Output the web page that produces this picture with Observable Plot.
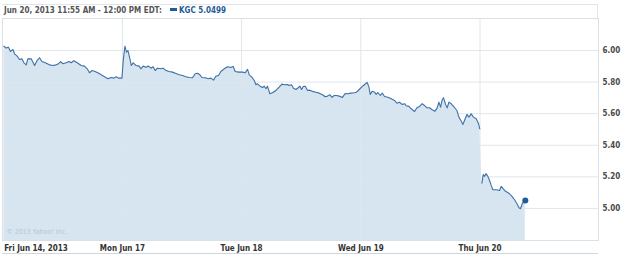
<!DOCTYPE html>
<html><head><meta charset="utf-8">
<script src="https://cdn.jsdelivr.net/npm/d3@7"></script>
<script src="https://cdn.jsdelivr.net/npm/@observablehq/plot@0.6"></script>
<style>
body{margin:0;background:#fff;}
#wrap{position:relative;width:625px;height:256px;overflow:hidden;font-family:"DejaVu Sans Condensed","DejaVu Sans",sans-serif;}
#wrap svg{position:absolute;left:0;top:0;}
#topline{position:absolute;left:2px;top:4px;width:596px;height:14px;border-top:1px solid #dfe5eb;border-right:1px solid #dfe5eb;box-sizing:border-box;}
#hdr{position:absolute;left:4px;top:6px;font-size:8px;font-weight:bold;line-height:10px;color:#555;white-space:nowrap;}
#hdr .sw{display:inline-block;width:7px;height:3px;background:#1f5c99;vertical-align:middle;margin:0 2px 0 8px;position:relative;top:-1px;}
#hdr .tk{color:#1f5c99;}
#botline{position:absolute;left:2px;top:253px;width:596px;height:0;border-top:1px solid #cfd6dc;}
</style></head>
<body><div id="wrap"><div id="topline"></div><div id="hdr">Jun 20, 2013 11:55 AM - 12:00 PM EDT:<span class="sw"></span><span class="tk">KGC 5.0499</span></div><div id="botline"></div></div>
<script>
const dayLabels = ["Fri Jun 14, 2013","Mon Jun 17","Tue Jun 18","Wed Jun 19","Thu Jun 20"];
const yTicks = [5.0, 5.2, 5.4, 5.6, 5.8, 6.0];
// time in trading days since Fri Jun 14 open (fraction of session)
const friT = [0.006,0.025,0.044,0.061,0.081,0.095,0.117,0.137,0.157,0.174,0.193,0.207,0.235,0.263,0.285,0.305,0.325,0.352,0.388,0.417,0.445,0.464,0.481,0.501,0.529,0.551,0.570,0.593,0.621,0.654,0.682,0.705,0.724,0.744,0.766,0.794,0.822,0.850,0.878,0.906,0.929,0.948,0.967,0.996];
const friP = [6.027,6.015,6.021,5.994,6.006,5.979,5.964,5.943,5.947,5.922,5.909,5.947,5.947,5.905,5.937,5.954,5.930,5.922,5.909,5.905,5.909,5.916,5.930,5.916,5.922,5.930,5.922,5.935,5.922,5.905,5.901,5.884,5.859,5.873,5.869,5.859,5.846,5.834,5.821,5.829,5.825,5.834,5.825,5.825];
const monT = [1.007,1.021,1.034,1.046,1.063,1.074,1.091,1.113,1.141,1.155,1.174,1.197,1.219,1.239,1.258,1.275,1.294,1.323,1.342,1.365,1.393,1.420,1.449,1.477,1.504,1.533,1.560,1.588,1.611,1.630,1.650,1.667,1.695,1.722,1.742,1.764,1.784,1.806,1.826,1.854,1.882,1.910,1.930,1.946,1.974,1.998];
const monP = [5.937,6.027,5.989,6.000,5.947,5.905,5.922,5.905,5.901,5.884,5.901,5.894,5.901,5.888,5.897,5.873,5.888,5.884,5.888,5.873,5.867,5.863,5.854,5.846,5.842,5.834,5.829,5.827,5.853,5.856,5.846,5.829,5.827,5.821,5.825,5.812,5.837,5.842,5.867,5.884,5.897,5.892,5.899,5.867,5.863,5.863];
const tueT = [2.008,2.030,2.050,2.064,2.086,2.106,2.120,2.133,2.154,2.175,2.190,2.204,2.217,2.237,2.259,2.288,2.315,2.338,2.357,2.385,2.399,2.419,2.435,2.456,2.475,2.489,2.503,2.517,2.534,2.553,2.573,2.595,2.623,2.651,2.679,2.701,2.721,2.741,2.758,2.777,2.796,2.819,2.846,2.869,2.892,2.917,2.945,2.964,2.987];
const tueP = [5.863,5.859,5.880,5.846,5.831,5.810,5.783,5.789,5.774,5.766,5.774,5.758,5.774,5.726,5.732,5.747,5.768,5.787,5.783,5.785,5.778,5.783,5.761,5.753,5.764,5.774,5.753,5.772,5.774,5.747,5.749,5.741,5.736,5.730,5.720,5.707,5.711,5.720,5.703,5.715,5.715,5.711,5.703,5.728,5.726,5.730,5.732,5.736,5.753];
const wedT = [3.009,3.029,3.039,3.054,3.068,3.079,3.096,3.115,3.129,3.143,3.163,3.180,3.199,3.227,3.255,3.283,3.303,3.325,3.347,3.367,3.381,3.404,3.423,3.451,3.471,3.493,3.515,3.534,3.555,3.576,3.599,3.622,3.641,3.655,3.669,3.683,3.694,3.711,3.725,3.739,3.758,3.778,3.794,3.806,3.823,3.842,3.857,3.870,3.890,3.907,3.926,3.945,3.968,3.988,3.998];
const wedP = [5.770,5.783,5.789,5.797,5.768,5.722,5.742,5.736,5.722,5.734,5.715,5.730,5.709,5.704,5.694,5.684,5.666,5.673,5.658,5.663,5.650,5.646,5.631,5.614,5.637,5.646,5.663,5.652,5.637,5.637,5.625,5.616,5.637,5.673,5.641,5.688,5.701,5.658,5.637,5.673,5.663,5.646,5.631,5.620,5.578,5.553,5.532,5.557,5.595,5.578,5.599,5.578,5.568,5.536,5.504];
const thuT = [4.016,4.027,4.038,4.050,4.066,4.080,4.094,4.108,4.136,4.164,4.178,4.192,4.206,4.228,4.248,4.268,4.290,4.310,4.327,4.340,4.352,4.366,4.380];
const thuP = [5.160,5.215,5.203,5.220,5.203,5.177,5.146,5.118,5.118,5.114,5.139,5.127,5.114,5.103,5.093,5.076,5.055,5.030,5.004,4.998,5.025,5.046,5.0499];

const T = [...friT, ...monT, ...tueT, ...wedT, ...thuT];
const P = [...friP, ...monP, ...tueP, ...wedP, ...thuP];
const data = T.map((t, i) => ({t, p: P[i], seg: t < 4 ? 0 : 1}));
const last = data[data.length - 1];
const dayIdx = dayLabels.map((d, i) => i);

const grid = "#dfe6ec";
const chart = Plot.plot({
  width: 625, height: 256,
  marginTop: 18, marginRight: 27, marginBottom: 16, marginLeft: 2,
  style: {fontFamily: '"DejaVu Sans Condensed","DejaVu Sans",sans-serif', background: "transparent"},
  x: {domain: [-0.006, 4.994], axis: null, label: null},
  y: {domain: [4.797, 6.2025], axis: null, label: null},
  marks: [
    Plot.areaY(data, {x: "t", y: "p", fill: "#d6e5f0", clip: true}),
    Plot.gridY(yTicks, {stroke: grid, strokeOpacity: 1}),
    Plot.gridX([1, 2, 3, 4], {stroke: grid, strokeOpacity: 1}),
    Plot.frame({stroke: "#d9e0e6"}),
    Plot.lineY(data, {x: "t", y: "p", z: "seg", stroke: "#3f71a6", strokeWidth: 1.1}),
    Plot.dot([last], {x: "t", y: "p", r: 3, fill: "#1f5c99", stroke: "none"}),
    Plot.text(["© 2013 Yahoo! Inc."], {frameAnchor: "bottom-left", dx: 4, dy: -7, textAnchor: "start", fill: "#b7c5d1", fontSize: 7}),
    Plot.axisY(yTicks, {anchor: "right", label: null, tickSize: 0, tickPadding: 4, tickFormat: d3.format(".2f"), fontSize: 8, fontWeight: "bold", fill: "#4a4a4a"}),
    Plot.text(dayIdx.slice(0, 1), {x: d => d, text: d => dayLabels[d], frameAnchor: "bottom", dy: 8, dx: 1, textAnchor: "start", lineAnchor: "middle", fontSize: 8, fontWeight: "bold", fill: "#333"}),
    Plot.text(dayIdx.slice(1), {x: d => d, text: d => dayLabels[d], frameAnchor: "bottom", dy: 8, textAnchor: "middle", lineAnchor: "middle", fontSize: 8, fontWeight: "bold", fill: "#333"})
  ]
});
document.getElementById("wrap").prepend(chart);
</script>
</body></html>
